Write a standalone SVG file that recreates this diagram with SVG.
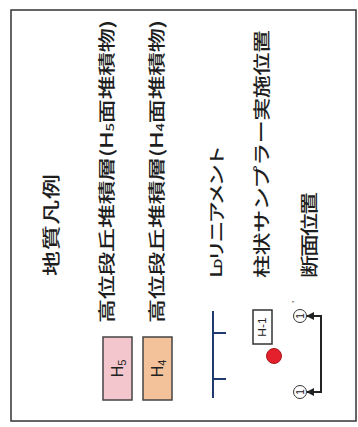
<svg xmlns="http://www.w3.org/2000/svg" width="358" height="427" viewBox="0 0 358 427">
<style>
.t{font-family:"Noto Sans CJK JP","Noto Sans",sans-serif;font-weight:500;fill:#1e1e1e;dominant-baseline:central}
.lbl{font-family:"Liberation Sans",Arial,sans-serif;fill:#222;text-anchor:middle;dominant-baseline:central}
.box{stroke:#444;stroke-width:1.5}
.ld{stroke:#1f3a6e;stroke-width:2;fill:none}
.sec{stroke:#222;stroke-width:2;fill:none}
.circ{fill:#fff;stroke:#333;stroke-width:1}
</style>
<defs>
<marker id="ah" viewBox="0 0 10 10" refX="9" refY="5" markerWidth="4" markerHeight="4" orient="auto-start-reverse">
<path d="M0,0 L10,5 L0,10 z" fill="#222"/>
</marker>
</defs>
<rect x="11" y="10" width="345" height="411" fill="#fff" stroke="#333" stroke-width="1.5"/>
<g id="title">
<text class="t" font-size="25" textLength="102" lengthAdjust="spacing" transform="translate(50,276) rotate(-90) scale(1,0.72)">地質凡例</text>
</g>
<g id="h5">
<rect class="box" x="103" y="337" width="29" height="63" fill="#f2c6cc"/>
<text class="lbl" font-size="16" transform="translate(117.5,368.5) rotate(-90)">H<tspan font-size="11" dy="4">5</tspan></text>
<text class="t" font-size="24" textLength="303" lengthAdjust="spacing" transform="translate(106,323) rotate(-90) scale(1,0.72)">高位段丘堆積層(H<tspan font-size="15" dy="4">5</tspan><tspan dy="-4">面堆積物)</tspan></text>
</g>
<g id="h4">
<rect class="box" x="143" y="337" width="29" height="63" fill="#f3c29b"/>
<text class="lbl" font-size="16" transform="translate(157.5,368.5) rotate(-90)">H<tspan font-size="11" dy="4">4</tspan></text>
<text class="t" font-size="24" textLength="303" lengthAdjust="spacing" transform="translate(156,323) rotate(-90) scale(1,0.72)">高位段丘堆積層(H<tspan font-size="15" dy="4">4</tspan><tspan dy="-4">面堆積物)</tspan></text>
</g>
<g id="lineament">
<path class="ld" d="M213,311 V398 M213,333 H226 M213,379 H226"/>
<text class="t" font-size="22" textLength="133" lengthAdjust="spacing" transform="translate(215,278) rotate(-90) scale(1,0.75)">L<tspan font-size="14" dy="4">D</tspan><tspan dy="-4">リニアメント</tspan></text>
</g>
<g id="sampler">
<rect x="253" y="310" width="19" height="34" fill="#fff" stroke="#333" stroke-width="1.5"/>
<text class="lbl" font-size="12" transform="translate(262.5,327) rotate(-90) scale(1,0.85)">H-1</text>
<circle cx="274" cy="356" r="7.5" fill="#e3202b" stroke="#a3161c" stroke-width="1"/>
<text class="t" font-size="23" textLength="248" lengthAdjust="spacing" transform="translate(260,278) rotate(-90) scale(1,0.75)">柱状サンプラー実施位置</text>
</g>
<g id="section">
<circle class="circ" cx="300" cy="316" r="6.5"/>
<text class="lbl" font-size="10" transform="translate(300,316) rotate(-90)">1</text>
<text class="lbl" font-size="9" transform="translate(295,302) rotate(-90)">'</text>
<circle class="circ" cx="300" cy="392" r="6.5"/>
<text class="lbl" font-size="10" transform="translate(300,392) rotate(-90)">1</text>
<text class="t" font-size="23" textLength="86" lengthAdjust="spacing" transform="translate(308,278) rotate(-90) scale(1,0.8)">断面位置</text>
</g>
<g id="connectors">
<path class="sec" d="M307,316 H321 V392 H307" marker-start="url(#ah)" marker-end="url(#ah)"/>
</g>
</svg>
